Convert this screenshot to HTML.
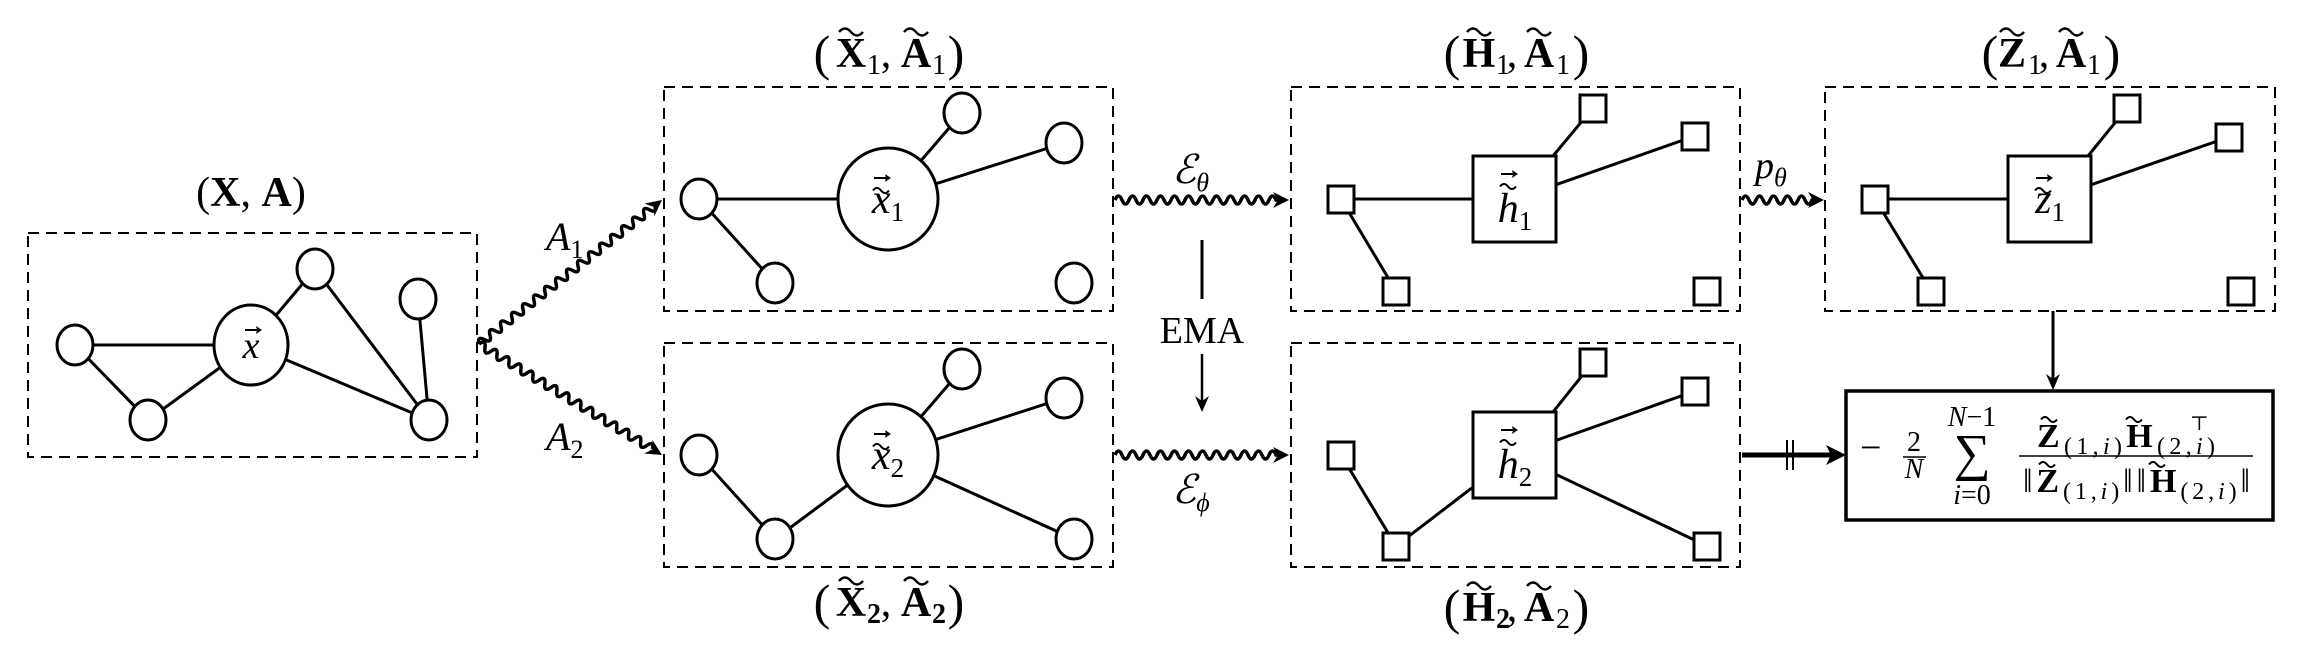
<!DOCTYPE html>
<html><head><meta charset="utf-8"><style>
html,body{margin:0;padding:0;background:#fff;}
svg{display:block;}
text{font-family:"Liberation Serif","DejaVu Serif",serif;fill:#000;}
.it{font-style:italic;}
.b{font-weight:bold;}
.t{font-size:42px;text-anchor:middle;}
.p{font-size:50px;text-anchor:middle;}
.s{font-size:28px;text-anchor:middle;}
</style></head><body>
<svg width="2314" height="654" viewBox="0 0 2314 654" xmlns="http://www.w3.org/2000/svg">
<defs>
<polygon id="ah" points="0,0 -16,-8 -11,0 -16,8" fill="#000"/>
<path id="tl" d="M-12,2 q6,-7 12,0 t12,0" fill="none" stroke="#000" stroke-width="2.4"/>
<path id="ts" d="M-8,1.5 q4,-5 8,0 t8,0" fill="none" stroke="#000" stroke-width="2"/>
<g id="vec"><line x1="-8" y1="0" x2="7" y2="0" stroke="#000" stroke-width="2"/><polygon points="9,0 3,-4 4,0 3,4" fill="#000"/></g>
</defs>
<g fill="none" stroke="#000" stroke-width="2" stroke-dasharray="11,7">
<rect x="28" y="233" width="449" height="224"/>
<rect x="664" y="87" width="449" height="224"/>
<rect x="664" y="343" width="449" height="224"/>
<rect x="1291" y="87" width="449" height="224"/>
<rect x="1291" y="343" width="449" height="224"/>
<rect x="1825" y="87" width="450" height="224"/>
</g>
<g stroke="#000" stroke-width="3" fill="none">
<line x1="75" y1="345" x2="251" y2="345"/><line x1="75" y1="345" x2="148" y2="420"/><line x1="148" y1="420" x2="251" y2="345"/>
<line x1="251" y1="345" x2="315" y2="269"/><line x1="315" y1="269" x2="429" y2="420"/><line x1="251" y1="345" x2="429" y2="420"/><line x1="418" y1="299" x2="429" y2="420"/>
<line x1="699" y1="199" x2="888" y2="199"/><line x1="699" y1="199" x2="775" y2="283"/><line x1="888" y1="199" x2="962" y2="113"/><line x1="888" y1="199" x2="1064" y2="143"/>
<line x1="699" y1="455" x2="775" y2="539"/><line x1="775" y1="539" x2="888" y2="455"/><line x1="888" y1="455" x2="962" y2="369"/><line x1="888" y1="455" x2="1064" y2="398"/><line x1="888" y1="455" x2="1074" y2="539"/>
<line x1="1341" y1="199" x2="1515" y2="199"/><line x1="1341" y1="199" x2="1396" y2="291"/><line x1="1553" y1="156" x2="1593" y2="108"/><line x1="1515" y1="199" x2="1695" y2="136"/>
<line x1="1341" y1="455" x2="1396" y2="546"/><line x1="1396" y1="546" x2="1515" y2="455"/><line x1="1553" y1="412" x2="1593" y2="362"/><line x1="1515" y1="455" x2="1695" y2="391"/><line x1="1515" y1="455" x2="1707" y2="546"/>
<line x1="1875" y1="199" x2="2050" y2="199"/><line x1="1875" y1="199" x2="1931" y2="291"/><line x1="2088" y1="156" x2="2127" y2="108"/><line x1="2050" y1="199" x2="2229" y2="137"/>
</g>
<g stroke="#000" stroke-width="3" fill="#fff">
<ellipse cx="75" cy="345" rx="18" ry="20"/><ellipse cx="148" cy="420" rx="18" ry="20"/><ellipse cx="251" cy="345" rx="37" ry="40"/>
<ellipse cx="315" cy="269" rx="18" ry="20"/><ellipse cx="418" cy="299" rx="18" ry="20"/><ellipse cx="429" cy="420" rx="18" ry="20"/>
<ellipse cx="699" cy="199" rx="18" ry="20"/><ellipse cx="888" cy="199" rx="50" ry="51"/><ellipse cx="962" cy="113" rx="18" ry="20"/><ellipse cx="1064" cy="143" rx="18" ry="20"/><ellipse cx="775" cy="283" rx="18" ry="20"/><ellipse cx="1074" cy="283" rx="18" ry="20"/>
<ellipse cx="699" cy="455" rx="18" ry="20"/><ellipse cx="775" cy="539" rx="18" ry="20"/><ellipse cx="888" cy="455" rx="50" ry="51"/><ellipse cx="962" cy="369" rx="18" ry="20"/><ellipse cx="1064" cy="398" rx="18" ry="20"/><ellipse cx="1074" cy="539" rx="18" ry="20"/>
<rect x="1328" y="186" width="26" height="27"/><rect x="1383" y="278" width="26" height="27"/><rect x="1473" y="156" width="83" height="86"/><rect x="1580" y="95" width="26" height="27"/><rect x="1682" y="123" width="26" height="27"/><rect x="1694" y="278" width="26" height="27"/>
<rect x="1328" y="442" width="26" height="27"/><rect x="1383" y="533" width="26" height="27"/><rect x="1473" y="412" width="83" height="86"/><rect x="1580" y="349" width="26" height="27"/><rect x="1682" y="378" width="26" height="27"/><rect x="1694" y="533" width="26" height="27"/>
<rect x="1862" y="186" width="26" height="27"/><rect x="1918" y="278" width="26" height="27"/><rect x="2008" y="156" width="83" height="86"/><rect x="2114" y="95" width="26" height="27"/><rect x="2216" y="124" width="26" height="27"/><rect x="2228" y="278" width="26" height="27"/>
</g>
<text x="251" y="358" class="it" font-size="38" text-anchor="middle">x</text><use href="#vec" transform="translate(253,330)"/>
<text x="888" y="213" class="it" font-size="42" text-anchor="middle">x<tspan font-size="27" dy="8" font-style="normal">1</tspan></text><use href="#ts" transform="translate(881,189)"/><use href="#vec" transform="translate(882,178)"/>
<text x="888" y="469" class="it" font-size="42" text-anchor="middle">x<tspan font-size="27" dy="8" font-style="normal">2</tspan></text><use href="#ts" transform="translate(881,445)"/><use href="#vec" transform="translate(882,434)"/>
<text x="1515" y="222" class="it" font-size="42" text-anchor="middle">h<tspan font-size="27" dy="8" font-style="normal">1</tspan></text><use href="#ts" transform="translate(1508,185)"/><use href="#vec" transform="translate(1509,174)"/>
<text x="1515" y="478" class="it" font-size="42" text-anchor="middle">h<tspan font-size="27" dy="8" font-style="normal">2</tspan></text><use href="#ts" transform="translate(1508,441)"/><use href="#vec" transform="translate(1509,430)"/>
<text x="2050" y="213" class="it" font-size="42" text-anchor="middle">z<tspan font-size="27" dy="8" font-style="normal">1</tspan></text><use href="#ts" transform="translate(2043,189)"/><use href="#vec" transform="translate(2044,178)"/>
<!-- titles -->
<text x="251" y="206" class="t">(<tspan class="b">X</tspan>, <tspan class="b">A</tspan>)</text>
<g>
<text x="822" y="70" class="p">(</text><text x="851" y="67" class="t b">X</text><text x="874" y="74" class="s">1</text><text x="886" y="67" class="t">,</text><text x="916" y="67" class="t b">A</text><text x="939" y="74" class="s">1</text><text x="956" y="70" class="p">)</text>
<use href="#tl" transform="translate(851,30)"/><use href="#tl" transform="translate(916,30)"/>
<text x="822" y="619" class="p">(</text><text x="851" y="616" class="t b">X</text><text x="874" y="623" class="s b">2</text><text x="886" y="616" class="t">,</text><text x="916" y="616" class="t b">A</text><text x="939" y="623" class="s b">2</text><text x="956" y="619" class="p">)</text>
<use href="#tl" transform="translate(851,579)"/><use href="#tl" transform="translate(916,579)"/>
<text x="1452" y="70" class="p">(</text><text x="1479" y="67" class="t b">H</text><text x="1503" y="74" class="s">1</text><text x="1512" y="67" class="t">,</text><text x="1539" y="67" class="t b">A</text><text x="1563" y="74" class="s">1</text><text x="1581" y="70" class="p">)</text>
<use href="#tl" transform="translate(1479,30)"/><use href="#tl" transform="translate(1539,30)"/>
<text x="1452" y="624" class="p">(</text><text x="1479" y="621" class="t b">H</text><text x="1503" y="628" class="s b">2</text><text x="1512" y="621" class="t">,</text><text x="1539" y="621" class="t b">A</text><text x="1563" y="628" class="s">2</text><text x="1581" y="624" class="p">)</text>
<use href="#tl" transform="translate(1479,584)"/><use href="#tl" transform="translate(1539,584)"/>
<text x="1990" y="70" class="p">(</text><text x="2012" y="67" class="t b">Z</text><text x="2035" y="74" class="s">1</text><text x="2044" y="67" class="t">,</text><text x="2071" y="67" class="t b">A</text><text x="2094" y="74" class="s">1</text><text x="2112" y="70" class="p">)</text>
<use href="#tl" transform="translate(2012,30)"/><use href="#tl" transform="translate(2071,30)"/>
</g>
<g stroke="#000" stroke-width="3.5" fill="none">
<path transform="translate(479,344) rotate(-38.2)" d="M0,0 q3.5,-8 7,0 t7,0 t7,0 t7,0 t7,0 t7,0 t7,0 t7,0 t7,0 t7,0 t7,0 t7,0 t7,0 t7,0 t7,0 t7,0 t7,0 t7,0 t7,0 t7,0 t7,0 t7,0 t7,0 t7,0 t7,0 t7,0 t7,0 t7,0 t7,0 t7,0 t7,0 t7,0"/>
<path transform="translate(479,344) rotate(31.2)" d="M0,0 q3.5,-8 7,0 t7,0 t7,0 t7,0 t7,0 t7,0 t7,0 t7,0 t7,0 t7,0 t7,0 t7,0 t7,0 t7,0 t7,0 t7,0 t7,0 t7,0 t7,0 t7,0 t7,0 t7,0 t7,0 t7,0 t7,0 t7,0 t7,0 t7,0 t7,0"/>
<path transform="translate(1115,200)" d="M0,0 q3.5,-8 7,0 t7,0 t7,0 t7,0 t7,0 t7,0 t7,0 t7,0 t7,0 t7,0 t7,0 t7,0 t7,0 t7,0 t7,0 t7,0 t7,0 t7,0 t7,0 t7,0 t7,0 t7,0 t7,0 l6,0"/>
<path transform="translate(1115,455)" d="M0,0 q3.5,-8 7,0 t7,0 t7,0 t7,0 t7,0 t7,0 t7,0 t7,0 t7,0 t7,0 t7,0 t7,0 t7,0 t7,0 t7,0 t7,0 t7,0 t7,0 t7,0 t7,0 t7,0 t7,0 t7,0 l6,0"/>
<path transform="translate(1742,200)" d="M0,0 q3.5,-8 7,0 t7,0 t7,0 t7,0 t7,0 t7,0 t7,0 t7,0 t7,0 t7,0 l6,0"/>
</g>
<use href="#ah" transform="translate(662,200) rotate(-38.2)"/>
<use href="#ah" transform="translate(662,455) rotate(31.2)"/>
<use href="#ah" transform="translate(1289,200)"/>
<use href="#ah" transform="translate(1289,455)"/>
<use href="#ah" transform="translate(1824,200)"/>
<text x="546" y="250" class="it" font-size="40">A<tspan font-size="26" dy="8" font-style="normal">1</tspan></text>
<text x="546" y="450" class="it" font-size="40">A<tspan font-size="26" dy="8" font-style="normal">2</tspan></text>
<text x="1172" y="183" font-size="40" font-family="DejaVu Serif" font-style="italic">ℰ<tspan font-size="26" dy="8" font-family="Liberation Serif">θ</tspan></text>
<text x="1172" y="503" font-size="40" font-family="DejaVu Serif" font-style="italic">ℰ<tspan font-size="26" dy="8" font-family="Liberation Serif">ϕ</tspan></text>
<text x="1755" y="178" class="it" font-size="38">p<tspan font-size="26" dy="8">θ</tspan></text>
<line x1="1202" y1="240" x2="1202" y2="299" stroke="#000" stroke-width="3"/>
<text x="1202" y="343" font-size="38" text-anchor="middle">EMA</text>
<line x1="1202" y1="354" x2="1202" y2="405" stroke="#000" stroke-width="2.5"/>
<polygon points="1202,412 1195,396 1202,401 1209,396" fill="#000"/>
<line x1="2053" y1="311" x2="2053" y2="382" stroke="#000" stroke-width="3"/>
<polygon points="2053,390 2046,374 2053,379 2060,374" fill="#000"/>
<line x1="1742" y1="455" x2="1836" y2="455" stroke="#000" stroke-width="5"/>
<polygon points="1846,455 1826,445 1831,455 1826,465" fill="#000"/>
<line x1="1787" y1="440" x2="1787" y2="470" stroke="#000" stroke-width="2"/>
<line x1="1793" y1="440" x2="1793" y2="470" stroke="#000" stroke-width="2"/>
<rect x="1846" y="391" width="427" height="129" fill="none" stroke="#000" stroke-width="3.5"/>
<text x="1860" y="460" font-size="38">−</text>
<text x="1914" y="451" font-size="28" text-anchor="middle">2</text>
<line x1="1903" y1="457" x2="1926" y2="457" stroke="#000" stroke-width="1.5"/>
<text x="1914" y="478" class="it" font-size="28" text-anchor="middle">N</text>
<text x="1972" y="470" font-size="52" text-anchor="middle" font-family="DejaVu Serif">∑</text>
<text x="1972" y="426" font-size="28" text-anchor="middle"><tspan class="it">N</tspan>−1</text>
<text x="1972" y="504" font-size="28" text-anchor="middle"><tspan class="it">i</tspan>=0</text>
<text x="2037" y="447" font-size="34" textLength="178" lengthAdjust="spacing"><tspan class="b">Z</tspan><tspan font-size="24" dy="7">(1,<tspan class="it">i</tspan>)</tspan><tspan class="b" dy="-7">H</tspan><tspan font-size="24" dy="7">(2,<tspan class="it">i</tspan>)</tspan></text>
<use href="#ts" transform="translate(2049,418)"/><use href="#ts" transform="translate(2134,418)"/>
<text x="2190" y="430" font-size="20">⊤</text>
<line x1="2019" y1="456" x2="2253" y2="456" stroke="#000" stroke-width="1.5"/>
<text x="2023" y="492" font-size="34" textLength="227" lengthAdjust="spacing">‖<tspan class="b">Z</tspan><tspan font-size="24" dy="7">(1,<tspan class="it">i</tspan>)</tspan><tspan dy="-7">‖‖</tspan><tspan class="b">H</tspan><tspan font-size="24" dy="7">(2,<tspan class="it">i</tspan>)</tspan><tspan dy="-7">‖</tspan></text>
<use href="#ts" transform="translate(2047,463)"/><use href="#ts" transform="translate(2157,463)"/>
</svg>
</body></html>
